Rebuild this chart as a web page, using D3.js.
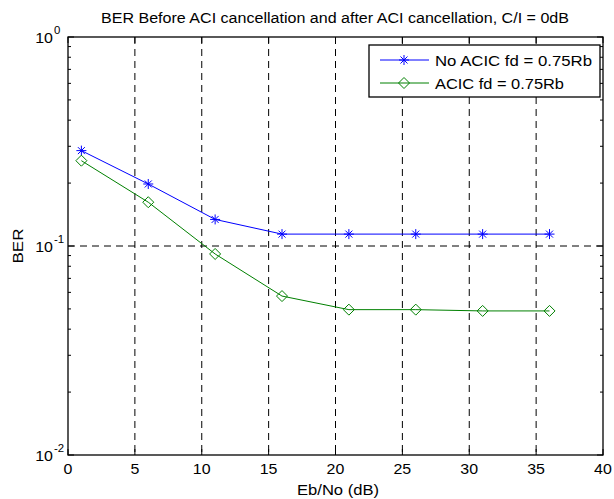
<!DOCTYPE html>
<html><head><meta charset="utf-8">
<script src="https://cdn.jsdelivr.net/npm/d3@7"></script>
<style>body{margin:0;background:#fff}svg{display:block}text{font-family:"Liberation Sans",Arial,sans-serif;fill:#000}</style>
</head><body><svg id="c" width="614" height="499"></svg>
<script>
const ebno = [1, 6, 11, 16, 21, 26, 31, 36];
const berNoAcic = [0.286, 0.198, 0.134, 0.114, 0.114, 0.114, 0.114, 0.114];
const berAcic = [0.256, 0.162, 0.0916, 0.0576, 0.0496, 0.0496, 0.0489, 0.0489];
const xTicks = [0, 5, 10, 15, 20, 25, 30, 35, 40];
const yTicks = [1e-2, 1e-1, 1];
const yExp = ["-2", "-1", "0"];
const seriesNames = ["No ACIC fd = 0.75Rb", "ACIC fd = 0.75Rb"];
const titleText = "BER Before ACI cancellation and after ACI cancellation, C/I = 0dB";

const L = 68, R = 603, T = 37, B = 455;
const SX = 1.14;
const svg = d3.select("#c");
const x = d3.scaleLinear().domain([0, 40]).range([L, R]);
const y = d3.scaleLog().domain([1e-2, 1]).range([B, T]);

// stretched text helper (reference glyphs are wider than tall)
function stext(sel, tx, ty, str, size, anchor, len) {
  const t = sel.append("text").attr("x", tx).attr("y", ty).attr("font-size", size)
    .attr("text-anchor", anchor || "start").text(str);
  const w = len || t.node().getComputedTextLength() * SX;
  t.attr("textLength", w).attr("lengthAdjust", "spacingAndGlyphs");
  return t;
}

// grid
const g = svg.append("g");
g.selectAll(".gx").data(xTicks.slice(1, -1)).join("line")
  .attr("x1", d => x(d)).attr("x2", d => x(d)).attr("y1", T).attr("y2", B)
  .attr("stroke", "#000").attr("stroke-width", 1).attr("stroke-dasharray", "7,5");
g.selectAll(".gy").data([1e-1]).join("line")
  .attr("x1", L).attr("x2", R).attr("y1", d => y(d)).attr("y2", d => y(d))
  .attr("stroke", "#000").attr("stroke-width", 1).attr("stroke-dasharray", "7,5");

// ticks
const minor = [];
for (let e = -2; e < 0; e++) for (let m = 2; m <= 9; m++) minor.push(m * Math.pow(10, e));
const tk = svg.append("g").attr("stroke", "#000").attr("stroke-width", 1);
minor.forEach(v => {
  tk.append("line").attr("x1", L).attr("x2", L + 3).attr("y1", y(v)).attr("y2", y(v));
  tk.append("line").attr("x1", R).attr("x2", R - 3).attr("y1", y(v)).attr("y2", y(v));
});
yTicks.forEach(v => {
  tk.append("line").attr("x1", L).attr("x2", L + 6).attr("y1", y(v)).attr("y2", y(v));
  tk.append("line").attr("x1", R).attr("x2", R - 6).attr("y1", y(v)).attr("y2", y(v));
});
xTicks.forEach(v => {
  tk.append("line").attr("x1", x(v)).attr("x2", x(v)).attr("y1", B).attr("y2", B - 6);
  tk.append("line").attr("x1", x(v)).attr("x2", x(v)).attr("y1", T).attr("y2", T + 6);
});

// frame
svg.append("rect").attr("x", L).attr("y", T).attr("width", R - L).attr("height", B - T)
  .attr("fill", "none").attr("stroke", "#000").attr("stroke-width", 1.3);

// tick labels
xTicks.forEach(v => stext(svg, x(v), B + 19, String(v), 14, "middle"));
yTicks.forEach((v, i) => {
  stext(svg, 53, y(v) + 6, "10", 14, "end");
  stext(svg, 54, y(v) - 3, yExp[i], 10, "start");
});

// labels
stext(svg, 335, 23, titleText, 14, "middle", 468);
stext(svg, 338, 495, "Eb/No (dB)", 14, "middle", 82);
svg.append("g").attr("transform", `translate(22.5,${(T + B) / 2}) rotate(-90)`)
  .call(s => stext(s, 0, 0, "BER", 15, "middle", 35));

// series
const line = d3.line().x(d => x(d[0])).y(d => y(d[1]));
const blue = "#0000ff", green = "#008000";
const s1 = ebno.map((e, i) => [e, berNoAcic[i]]);
const s2 = ebno.map((e, i) => [e, berAcic[i]]);
svg.append("path").attr("d", line(s1)).attr("fill", "none").attr("stroke", blue).attr("stroke-width", 1);
svg.append("path").attr("d", line(s2)).attr("fill", "none").attr("stroke", green).attr("stroke-width", 1);

function star(sel, cx, cy, c) {
  const r = 5, d = 3.5;
  const p = `M${cx - r},${cy}H${cx + r}M${cx},${cy - r}V${cy + r}M${cx - d},${cy - d}L${cx + d},${cy + d}M${cx - d},${cy + d}L${cx + d},${cy - d}`;
  sel.append("path").attr("d", p).attr("stroke", c).attr("stroke-width", 1).attr("fill", "none");
}
function diamond(sel, cx, cy, c) {
  const r = 5.5;
  sel.append("path").attr("d", `M${cx},${cy - r}L${cx + r},${cy}L${cx},${cy + r}L${cx - r},${cy}Z`)
    .attr("stroke", c).attr("stroke-width", 1).attr("fill", "none");
}
s1.forEach(d => star(svg, x(d[0]), y(d[1]), blue));
s2.forEach(d => diamond(svg, x(d[0]), y(d[1]), green));

// legend
const lg = svg.append("g");
lg.append("rect").attr("x", 369).attr("y", 45).attr("width", 231).attr("height", 52)
  .attr("fill", "#fff").attr("stroke", "#000").attr("stroke-width", 1.3);
const rows = [60, 83];
const legLen = [157, 129];
[blue, green].forEach((c, i) => {
  lg.append("line").attr("x1", 380).attr("x2", 429).attr("y1", rows[i]).attr("y2", rows[i])
    .attr("stroke", c).attr("stroke-width", 1);
  if (i === 0) star(lg, 404, rows[i], c); else diamond(lg, 404, rows[i], c);
  stext(lg, 435, rows[i] + 5.5, seriesNames[i], 14, "start", legLen[i]);
});
</script></body></html>
